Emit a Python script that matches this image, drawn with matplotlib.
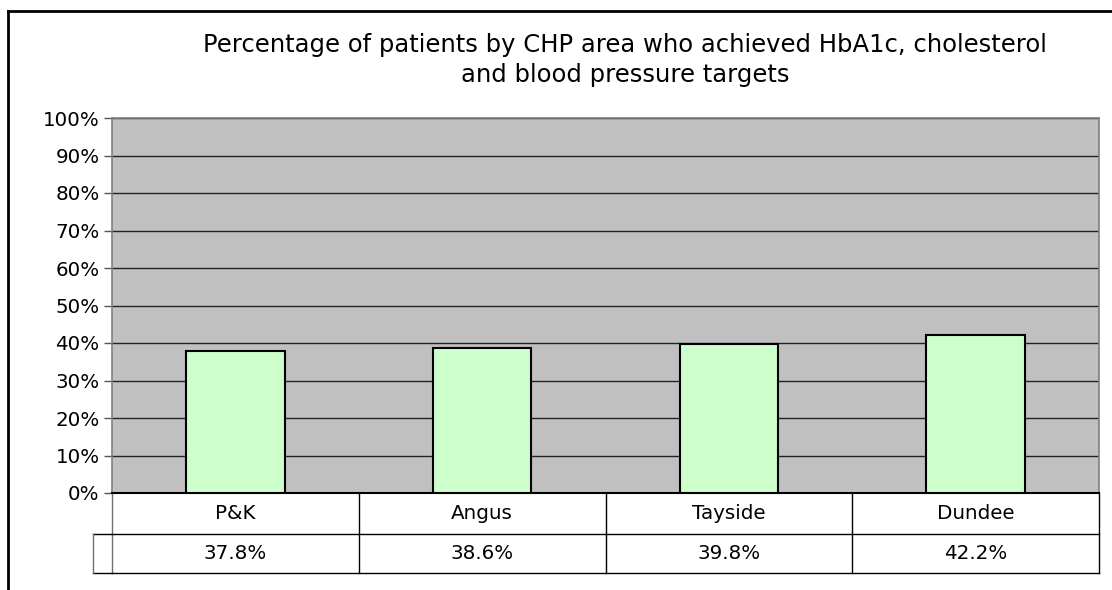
import matplotlib
matplotlib.use("Agg")
import matplotlib.pyplot as plt
import matplotlib.transforms as mtransforms
import numpy as np

plt.rcParams['font.family'] = ['DejaVu Sans']

areas = ['P&K', 'Angus', 'Tayside', 'Dundee']
pct = [37.8, 38.6, 39.8, 42.2]
pct_labels = ['37.8%', '38.6%', '39.8%', '42.2%']
yticks = np.arange(0, 101, 10)

W, H = 1112, 590
fig = plt.figure(figsize=(W / 100, H / 100), dpi=100)
fig.patch.set_facecolor('white')

ax = fig.add_axes([112 / W, 1 - 493 / H, (1099 - 112) / W, (493 - 118) / H])
ax.set_facecolor('#C0C0C0')
x = np.arange(len(areas))
ax.set_xlim(-0.5, len(areas) - 0.5)
ax.set_ylim(0, 100)
ax.set_yticks(yticks)
ax.set_yticklabels([f'{t}%' for t in yticks], fontsize=14.3)
ax.yaxis.grid(True, color='#222222', linewidth=1.0)
ax.set_axisbelow(True)
ax.tick_params(axis='y', length=6, width=1.0, color='#555555', pad=3)
ax.set_xticks([])
for s in ['left', 'top', 'right']:
    ax.spines[s].set_color('#808080')
    ax.spines[s].set_linewidth(1.2)
ax.spines['bottom'].set_color('black')
ax.spines['bottom'].set_linewidth(1.5)

ax.bar(x, pct, width=0.4, color='#CCFFCC', edgecolor='black', linewidth=1.5, zorder=3)

# data table under the plot
tr = mtransforms.blended_transform_factory(ax.transData, fig.transFigure)
y_top = 1 - 493 / H
y_mid = 1 - 534 / H
y_bot = 1 - 573 / H
edges = np.arange(len(areas) + 1) - 0.5
lw = 1.0
for j, e in enumerate(edges):
    col = '#707070' if j == 0 else 'black'
    ax.plot([e, e], [y_top, y_bot], color=col, lw=lw, transform=tr, clip_on=False)
ax.plot([edges[0], edges[-1]], [y_mid, y_mid], color='black', lw=lw, transform=tr, clip_on=False)
ax.plot([edges[0], edges[-1]], [y_bot, y_bot], color='black', lw=lw, transform=tr, clip_on=False)
# empty key cell left of the value row
kx = 93 / W
fig.add_artist(plt.Line2D([kx, 112 / W], [y_mid, y_mid], color='black', lw=lw))
fig.add_artist(plt.Line2D([kx, 112 / W], [y_bot, y_bot], color='black', lw=lw))
fig.add_artist(plt.Line2D([kx, kx], [y_mid, y_bot], color='#707070', lw=lw))
for i in range(len(areas)):
    ax.text(x[i], (y_top + y_mid) / 2, areas[i], transform=tr, ha='center', va='center', fontsize=14.3)
    ax.text(x[i], (y_mid + y_bot) / 2, pct_labels[i], transform=tr, ha='center', va='center', fontsize=14.3)

# title
fig.text(625 / W, 1 - 60 / H, 'Percentage of patients by CHP area who achieved HbA1c, cholesterol\nand blood pressure targets',
         ha='center', va='center', fontsize=17.5, linespacing=1.3)

# outer chart frame
fig.add_artist(plt.Line2D([8 / W, 8 / W], [0, 1 - 11 / H], color='black', lw=2))
fig.add_artist(plt.Line2D([8 / W, 1], [1 - 11 / H, 1 - 11 / H], color='black', lw=2))

fig.savefig('out.png', dpi=100)
